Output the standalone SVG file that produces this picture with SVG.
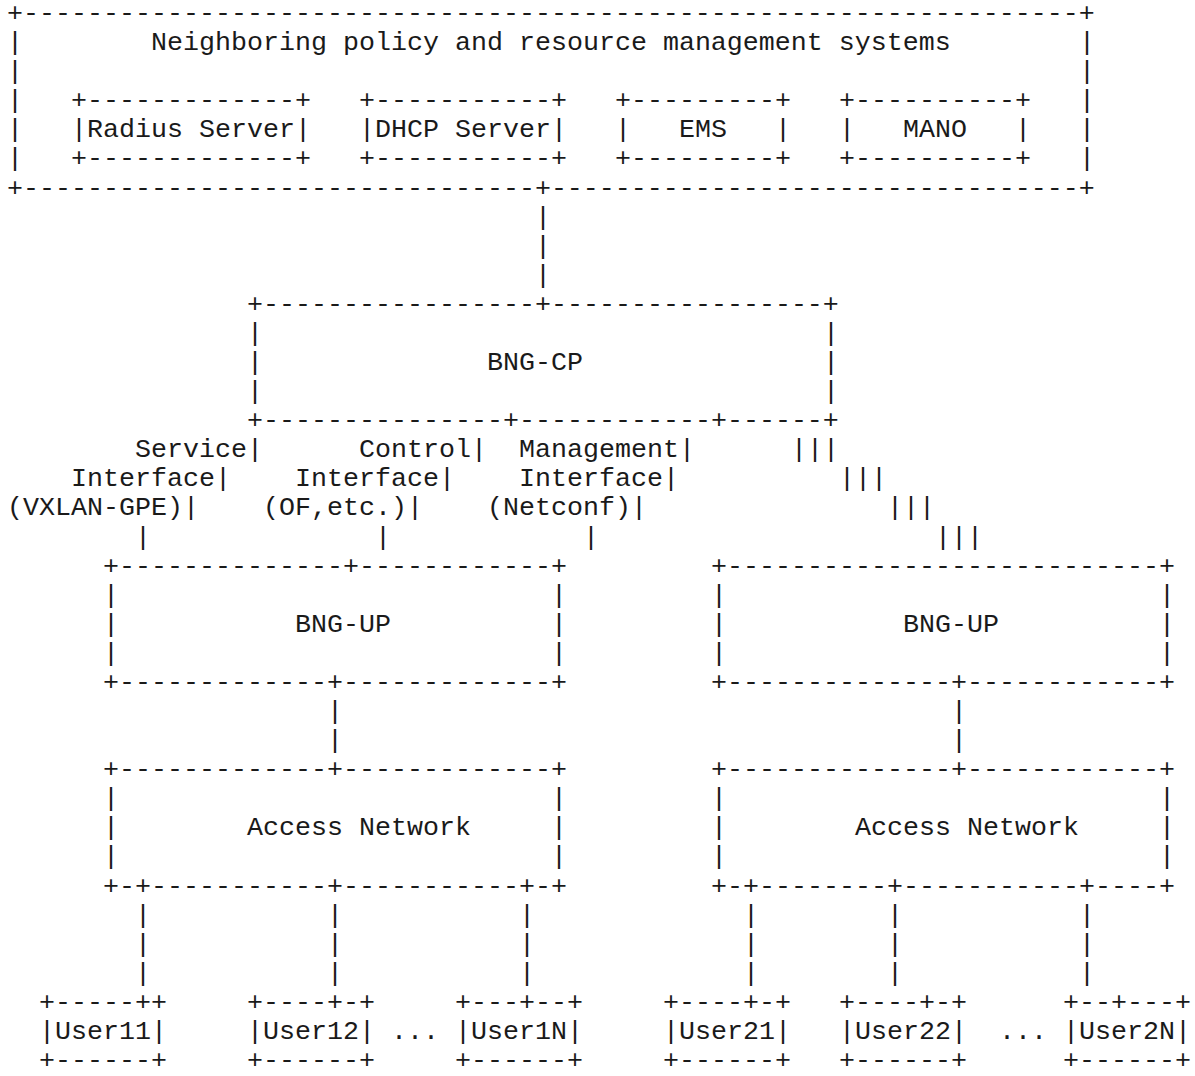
<svg xmlns="http://www.w3.org/2000/svg" width="1195" height="1076" viewBox="0 0 1195 1076">
  <style>
    text { font-family: "Liberation Mono", "Courier New", monospace; font-size: 26.66px; fill: #1a1a1a; white-space: pre; }
  </style>
  <!-- monospace grid: column c starts at x = 7 + 16c, row r baseline at y = 21 + 29.083r -->
  <rect x="0" y="0" width="1195" height="1076" fill="#fff"/>

  <!-- outer box: neighboring systems -->
  <g id="policy-systems">
    <text x="7" y="21">+------------------------------------------------------------------+</text>
    <text x="7" y="50.1">|</text><text x="151" y="50.1">Neighboring policy and resource management systems</text><text x="1079" y="50.1">|</text>
    <text x="7" y="79.2">|</text><text x="1079" y="79.2">|</text>
    <text x="7" y="108.2">|</text><text x="1079" y="108.2">|</text>
    <text x="7" y="137.3">|</text><text x="1079" y="137.3">|</text>
    <text x="7" y="166.4">|</text><text x="1079" y="166.4">|</text>
    <text x="7" y="195.5">+--------------------------------+---------------------------------+</text>
  </g>
  <g id="radius-server">
    <text x="71" y="108.2">+-------------+</text>
    <text x="71" y="137.3">|Radius Server|</text>
    <text x="71" y="166.4">+-------------+</text>
  </g>
  <g id="dhcp-server">
    <text x="359" y="108.2">+-----------+</text>
    <text x="359" y="137.3">|DHCP Server|</text>
    <text x="359" y="166.4">+-----------+</text>
  </g>
  <g id="ems">
    <text x="615" y="108.2">+---------+</text>
    <text x="615" y="137.3">|   EMS   |</text>
    <text x="615" y="166.4">+---------+</text>
  </g>
  <g id="mano">
    <text x="839" y="108.2">+----------+</text>
    <text x="839" y="137.3">|   MANO   |</text>
    <text x="839" y="166.4">+----------+</text>
  </g>

  <!-- control plane -->
  <g id="bng-cp">
    <text x="247" y="311.8">+-----------------+-----------------+</text>
    <text x="247" y="340.9">|</text><text x="823" y="340.9">|</text>
    <text x="247" y="370">|</text><text x="487" y="370">BNG-CP</text><text x="823" y="370">|</text>
    <text x="247" y="399.1">|</text><text x="823" y="399.1">|</text>
    <text x="247" y="428.2">+---------------+------------+------+</text>
  </g>

  <!-- user planes -->
  <g id="bng-up-1">
    <text x="103" y="573.6">+--------------+------------+</text>
    <text x="103" y="602.7">|</text><text x="551" y="602.7">|</text>
    <text x="103" y="631.7">|</text><text x="295" y="631.7">BNG-UP</text><text x="551" y="631.7">|</text>
    <text x="103" y="660.8">|</text><text x="551" y="660.8">|</text>
    <text x="103" y="689.9">+-------------+-------------+</text>
  </g>
  <g id="bng-up-2">
    <text x="711" y="573.6">+---------------------------+</text>
    <text x="711" y="602.7">|</text><text x="1159" y="602.7">|</text>
    <text x="711" y="631.7">|</text><text x="903" y="631.7">BNG-UP</text><text x="1159" y="631.7">|</text>
    <text x="711" y="660.8">|</text><text x="1159" y="660.8">|</text>
    <text x="711" y="689.9">+--------------+------------+</text>
  </g>

  <!-- access networks -->
  <g id="access-network-1">
    <text x="103" y="777.2">+-------------+-------------+</text>
    <text x="103" y="806.2">|</text><text x="551" y="806.2">|</text>
    <text x="103" y="835.3">|</text><text x="247" y="835.3">Access Network</text><text x="551" y="835.3">|</text>
    <text x="103" y="864.4">|</text><text x="551" y="864.4">|</text>
    <text x="103" y="893.5">+-+-----------+-----------+-+</text>
  </g>
  <g id="access-network-2">
    <text x="711" y="777.2">+--------------+------------+</text>
    <text x="711" y="806.2">|</text><text x="1159" y="806.2">|</text>
    <text x="711" y="835.3">|</text><text x="855" y="835.3">Access Network</text><text x="1159" y="835.3">|</text>
    <text x="711" y="864.4">|</text><text x="1159" y="864.4">|</text>
    <text x="711" y="893.5">+-+--------+-----------+----+</text>
  </g>

  <!-- subscribers -->
  <g id="user11">
    <text x="39" y="1009.8">+-----++</text>
    <text x="39" y="1038.9">|User11|</text>
    <text x="39" y="1068">+------+</text>
  </g>
  <g id="user12">
    <text x="247" y="1009.8">+----+-+</text>
    <text x="247" y="1038.9">|User12|</text>
    <text x="247" y="1068">+------+</text>
  </g>
  <g id="user1n">
    <text x="455" y="1009.8">+---+--+</text>
    <text x="455" y="1038.9">|User1N|</text>
    <text x="455" y="1068">+------+</text>
  </g>
  <g id="user21">
    <text x="663" y="1009.8">+----+-+</text>
    <text x="663" y="1038.9">|User21|</text>
    <text x="663" y="1068">+------+</text>
  </g>
  <g id="user22">
    <text x="839" y="1009.8">+----+-+</text>
    <text x="839" y="1038.9">|User22|</text>
    <text x="839" y="1068">+------+</text>
  </g>
  <g id="user2n">
    <text x="1063" y="1009.8">+--+---+</text>
    <text x="1063" y="1038.9">|User2N|</text>
    <text x="1063" y="1068">+------+</text>
  </g>
  <g id="ellipsis">
    <text x="391" y="1038.9">...</text>
    <text x="999" y="1038.9">...</text>
  </g>

  <!-- links between the boxes -->
  <g id="connectors">
    <!-- systems to BNG-CP -->
    <text x="535" y="224.6">|</text>
    <text x="535" y="253.7">|</text>
    <text x="535" y="282.7">|</text>
    <!-- BNG-CP to first BNG-UP, with interface labels -->
    <text x="135" y="457.2">Service|</text>
    <text x="359" y="457.2">Control|</text>
    <text x="519" y="457.2">Management|</text>
    <text x="71" y="486.3">Interface|</text>
    <text x="295" y="486.3">Interface|</text>
    <text x="519" y="486.3">Interface|</text>
    <text x="7" y="515.4">(VXLAN-GPE)|</text>
    <text x="263" y="515.4">(OF,etc.)|</text>
    <text x="487" y="515.4">(Netconf)|</text>
    <text x="135" y="544.5">|</text>
    <text x="375" y="544.5">|</text>
    <text x="583" y="544.5">|</text>
    <!-- BNG-CP to second BNG-UP (bundle of three) -->
    <text x="791" y="457.2">|||</text>
    <text x="839" y="486.3">|||</text>
    <text x="887" y="515.4">|||</text>
    <text x="935" y="544.5">|||</text>
    <!-- BNG-UP to access network -->
    <text x="327" y="719">|</text><text x="951" y="719">|</text>
    <text x="327" y="748.1">|</text><text x="951" y="748.1">|</text>
    <!-- access network to users -->
    <text x="135" y="922.6">|</text><text x="327" y="922.6">|</text><text x="519" y="922.6">|</text>
    <text x="743" y="922.6">|</text><text x="887" y="922.6">|</text><text x="1079" y="922.6">|</text>
    <text x="135" y="951.7">|</text><text x="327" y="951.7">|</text><text x="519" y="951.7">|</text>
    <text x="743" y="951.7">|</text><text x="887" y="951.7">|</text><text x="1079" y="951.7">|</text>
    <text x="135" y="980.7">|</text><text x="327" y="980.7">|</text><text x="519" y="980.7">|</text>
    <text x="743" y="980.7">|</text><text x="887" y="980.7">|</text><text x="1079" y="980.7">|</text>
  </g>
</svg>
